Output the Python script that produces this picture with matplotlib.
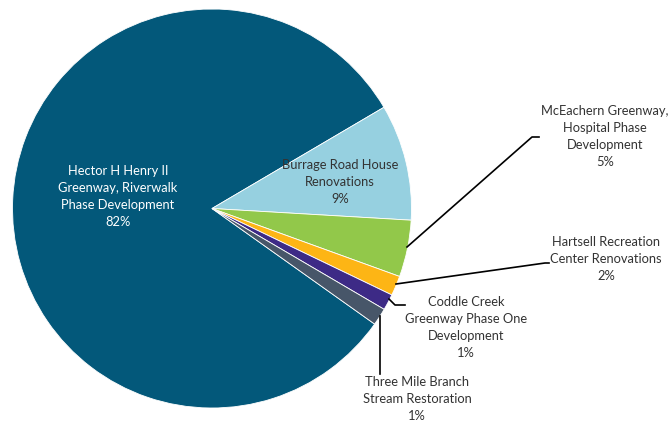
import matplotlib.pyplot as plt

# project funding shares (%)
projects = ["Hector H Henry II\nGreenway, Riverwalk\nPhase Development",
            "Burrage Road House\nRenovations",
            "McEachern Greenway,\nHospital Phase\nDevelopment",
            "Hartsell Recreation\nCenter Renovations",
            "Coddle Creek\nGreenway Phase One\nDevelopment",
            "Three Mile Branch\nStream Restoration"]
shares = [81.7, 9.4, 4.6, 1.6, 1.3, 1.4]
colors = ["#03587A", "#96D0E0", "#92C84A", "#FDB515", "#3D2A86", "#475669"]

W, H = 669, 423
fig = plt.figure(figsize=(W / 100, H / 100), dpi=100)
# axes in pixel units (y up) covering the whole figure
ax = fig.add_axes([0, 0, 1, 1])

cx, cy, r = 212, H - 208.5, 199.5
ax.pie(shares, colors=colors, center=(cx, cy), radius=r,
       startangle=-35.4, counterclock=False, frame=True,
       wedgeprops=dict(edgecolor="white", linewidth=0.6))
ax.set_xlim(0, W)
ax.set_ylim(0, H)
ax.set_aspect("equal")
ax.axis("off")

font = dict(family="Lato", fontsize=9.3, ha="center", va="center",
            linespacing=1.5)
labels = [f"{p}\n{round(s)}%" for p, s in zip(projects, shares)]

# label positions (pixel, y from top)
ax.text(118, H - 196, labels[0], color="white", **font)
ax.text(340, H - 182, labels[1], color="#333333", **font)
ax.text(605, H - 136, labels[2], color="#333333", **font)
ax.text(606, H - 259, labels[3], color="#333333", **font)
ax.text(466, H - 327, labels[4], color="#333333", **font)
ax.text(417, H - 399, labels[5], color="#333333", **font)

# leader lines
lk = dict(color="black", linewidth=1.2)
ax.plot([407, 532, 539], [H - 247, H - 137, H - 137], **lk)
ax.plot([396, 545, 549], [H - 284, H - 263, H - 263], **lk)
ax.plot([389, 395, 405], [H - 299, H - 305, H - 305], **lk)
ax.plot([380, 380], [H - 316, H - 374], **lk)

fig.savefig("out.png", dpi=100)
